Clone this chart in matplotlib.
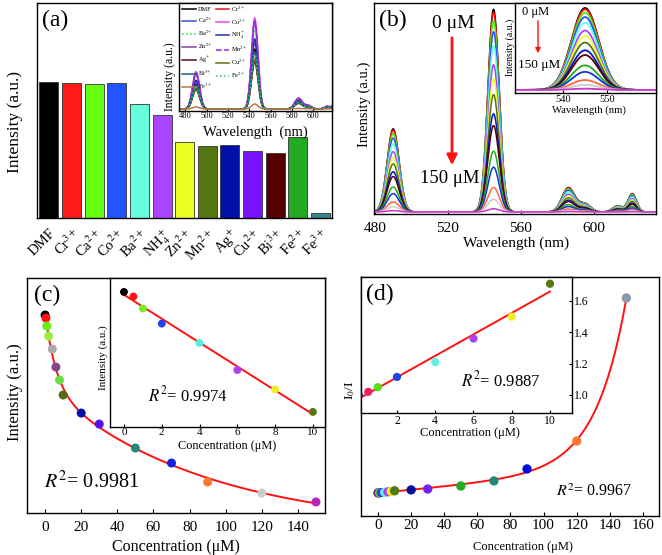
import matplotlib
matplotlib.use('Agg')
import matplotlib.pyplot as plt
import numpy as np

plt.rcParams['font.family'] = ['Liberation Serif', 'DejaVu Serif']
plt.rcParams['mathtext.fontset'] = 'stix'
plt.rcParams['xtick.direction'] = 'in'
plt.rcParams['ytick.direction'] = 'in'
plt.rcParams['axes.linewidth'] = 1.0

W, H = 662, 555

# ---------------- data ----------------
# (a) selectivity towards metal ions
ions = ['DMF', 'Cr$^{3+}$', 'Ca$^{2+}$', 'Co$^{2+}$', 'Ba$^{2+}$', 'NH$_4^+$', 'Zn$^{2+}$',
        'Mn$^{2+}$', 'Ag$^{+}$', 'Cu$^{2+}$', 'Bi$^{3+}$', 'Fe$^{2+}$', 'Fe$^{3+}$']
bar_intensity = [1000, 988, 981, 988, 834, 756, 560, 528, 538, 492, 475, 597, 34]
bar_colors = ['#000000', '#ff1a1a', '#66ff11', '#2255ff', '#66ffdd', '#aa44ff', '#eeff22',
              '#557711', '#0011aa', '#7711ff', '#550000', '#22aa22', '#338888']

# (a) inset spectra: 545 nm peak height for each ion
spec_peak_height = [60, 50, 66, 91, 78, 70, 86, 88, 47, 49, 56, 55, 5]
spec_colors = ['#000000', '#ee1111', '#3355cc', '#ee44ee', '#22dd44', '#223399', '#8844aa',
               '#9922ee', '#660022', '#557711', '#116677', '#22cc66', '#bb7744']
spec_styles = ['-', '-', '-', '-', ':', '-', '-', '--', '-', '-', '-', ':', '-']

# emission band shape: centre (nm), width (nm), relative height
band_centres = [490, 545, 586, 595, 613, 621]
band_widths = [3.3, 3.1, 3.5, 3.2, 2.8, 2.3]
band_rel = [0.41, 1.0, 0.12, 0.04, 0.03, 0.09]

# (b)-(d) Fe3+ titration
conc = np.array([0, 0.5, 1, 2, 4, 6, 8, 10, 20, 30, 50, 70, 90, 120, 150])
intensity = np.array([1000, 984, 942, 889, 821, 726, 658, 579, 484, 426, 300, 221, 121, 63, 16])
quench_ratio = np.array([1.0, 1.02, 1.05, 1.115, 1.21, 1.36, 1.50, 1.71, 2.0, 2.3, 3.3, 5.0,
                         9.0, 18.3, 66.0])

titration_colors = ['#000000', '#ff1111', '#55ee00', '#2255ff', '#66ffdd', '#aa44ff', '#eeff22',
                    '#557711', '#0011cc', '#550000', '#22aa22', '#1133dd', '#ff6644', '#cccccc',
                    '#cc33cc']
c_colors = ['#000000', '#ff1111', '#66ee11', '#99ee44', '#aaaaaa', '#884488', '#66dd44',
            '#556b11', '#0011aa', '#5511ee', '#228877', '#1122dd', '#ff7733', '#cccccc', '#bb22bb']
c_inset_colors = ['#000000', '#ff1111', '#77ee22', '#2244ee', '#55eedd', '#aa44ee', '#eeee22',
                  '#557711']
d_colors = ['#001199', '#ee2255', '#55dd11', '#2244ee', '#66eedd', '#aa44ee', '#eeee22',
            '#557711', '#001199', '#7722ee', '#22aa22', '#228877', '#0011dd', '#ff7733', '#8899aa']
d_inset_colors = ['#001199', '#ee2255', '#55dd11', '#2244ee', '#66eedd', '#aa44ee', '#eeee22',
                  '#557711']


# ---------------- helpers ----------------
def px_rect(left, top, right, bottom):
    return [left / W, 1 - bottom / H, (right - left) / W, (bottom - top) / H]


def band(wl, peak):
    out = np.zeros_like(wl)
    for c, w, r in zip(band_centres, band_widths, band_rel):
        out += r * np.exp(-0.5 * ((wl - c) / w) ** 2)
    return peak * out


def label_px(ax, which, x, y):
    pt = fig.transFigure.transform((x / W, 1 - y / H))
    ax_pt = ax.transAxes.inverted().transform(pt)
    if which == 'x':
        ax.xaxis.set_label_coords(*ax_pt)
        ax.xaxis.label.set_va('center')
    else:
        ax.yaxis.set_label_coords(*ax_pt)
        ax.yaxis.label.set_va('center')
        ax.yaxis.label.set_ha('center')


def ftext(x, y, s, **kw):
    fig.text(x / W, 1 - y / H, s, ha='center', va='center', **kw)


def biexp_fit(x, y):
    best = None
    for t1 in np.arange(1, 20, 0.5):
        for t2 in np.arange(20, 160, 2):
            A = np.column_stack([np.exp(-x / t1), np.exp(-x / t2), np.ones_like(x)])
            coef = np.linalg.lstsq(A, y, rcond=None)[0]
            err = np.sum((A @ coef - y) ** 2)
            if best is None or err < best[0]:
                best = (err, t1, t2, coef)
    _, t1, t2, coef = best
    return lambda z: coef[0] * np.exp(-z / t1) + coef[1] * np.exp(-z / t2) + coef[2]


def growth_fit(x, y):
    best = None
    for t in np.arange(5, 80, 0.5):
        A = np.column_stack([np.ones_like(x), x, np.exp(x / t)])
        coef = np.linalg.lstsq(A, y, rcond=None)[0]
        err = np.sum((A @ coef - y) ** 2)
        if best is None or err < best[0]:
            best = (err, t, coef)
    _, t, coef = best
    return lambda z: coef[0] + coef[1] * z + coef[2] * np.exp(z / t)


fig = plt.figure(figsize=(W / 100, H / 100), dpi=100)

# ---------------- (a) ----------------
ax_a = fig.add_axes(px_rect(37, 3, 331.5, 218))
xa = np.arange(len(ions))
ax_a.bar(xa, bar_intensity, width=0.84, color=bar_colors, edgecolor='#333333', linewidth=0.6)
ax_a.set_xlim(-0.53, 12.49)
ax_a.set_ylim(0, 1578)
ax_a.set_xticks(xa)
ax_a.set_xticklabels(ions, rotation=45, ha='right', rotation_mode='anchor', fontsize=10.5)
ax_a.tick_params(axis='x', length=0, pad=6)
ax_a.set_yticks([])
ax_a.set_ylabel('Intensity (a.u.)', fontsize=12.5)
label_px(ax_a, 'y', 15, 122)

ax_ai = fig.add_axes(px_rect(179, 3, 331.5, 111))
wl = np.linspace(470, 625, 600)
lines = []
for name, c, ls, h in zip(ions, spec_colors, spec_styles, spec_peak_height):
    ln, = ax_ai.plot(wl, band(wl, h), color=c, ls=ls, lw=1.1, label=name)
    lines.append(ln)
ax_ai.set_xlim(474, 617)
ax_ai.set_ylim(-2, 106)
ax_ai.set_xticks(np.arange(480, 601, 20))
ax_ai.tick_params(axis='x', labelsize=6, pad=1, length=2)
ax_ai.set_yticks([])
ax_ai.set_xlabel('Wavelength  (nm)', fontsize=10.5)
label_px(ax_ai, 'x', 255, 132)
ax_ai.set_ylabel('Intensity (a.u.)', fontsize=8.5)
label_px(ax_ai, 'y', 170, 77)
order = [0, 2, 4, 6, 8, 10, 12, 1, 3, 5, 7, 9, 11]
ax_ai.legend([lines[i] for i in order], [ions[i] for i in order], ncol=2, fontsize=4.5,
             frameon=False, loc='upper left', bbox_to_anchor=(0, 1.02), handlelength=2.2,
             columnspacing=0.5, labelspacing=0.55, borderaxespad=0.1, handletextpad=0.3)
ftext(55, 20, '(a)', fontsize=17)

# ---------------- (b) ----------------
ax_b = fig.add_axes(px_rect(374, 3, 656, 214))
wl_b = np.linspace(478, 636, 900)
for h, c in zip(intensity, titration_colors):
    ax_b.plot(wl_b, band(wl_b, h), color=c, lw=1.1)
ax_b.set_xlim(479.5, 634)
ax_b.set_ylim(-10, 1031)
ax_b.set_xticks([480, 520, 560, 600])
ax_b.tick_params(axis='x', labelsize=11, pad=6, length=3)
ax_b.set_yticks([])
ax_b.set_xlabel('Wavelength (nm)', fontsize=11)
label_px(ax_b, 'x', 516, 243)
ax_b.set_ylabel('Intensity (a.u.)', fontsize=10.5)
label_px(ax_b, 'y', 364, 104)
ftext(393, 20, '(b)', fontsize=17)
ftext(453, 23, '0 μM', fontsize=14)
ftext(450, 178, '150 μM', fontsize=13.5)
fig.add_artist(matplotlib.patches.FancyArrowPatch(
    (452 / W, 1 - 35 / H), (452 / W, 1 - 168 / H), transform=fig.transFigure,
    arrowstyle='-|>,head_length=6,head_width=3', color='#ff1111', lw=2))

ax_bi = fig.add_axes(px_rect(515, 3, 656, 93))
wl_i = np.linspace(526, 564, 300)
for h, c in zip(intensity, titration_colors):
    ax_bi.plot(wl_i, band(wl_i, h), color=c, lw=1.3)
ax_bi.set_xlim(529.1, 561.1)
ax_bi.set_ylim(-37, 1061)
ax_bi.set_xticks([540, 550])
ax_bi.tick_params(axis='x', labelsize=7.5, pad=1.5, length=2)
ax_bi.set_yticks([])
ax_bi.set_xlabel('Wavelength (nm)', fontsize=7.7)
label_px(ax_bi, 'x', 589, 110)
ax_bi.set_ylabel('Intensity (a.u.)', fontsize=7)
label_px(ax_bi, 'y', 510, 47)
ftext(536, 12, '0 μM', fontsize=9)
ftext(539, 65, '150 μM', fontsize=9.5)
fig.add_artist(matplotlib.patches.FancyArrowPatch(
    (538 / W, 1 - 18 / H), (538 / W, 1 - 56 / H), transform=fig.transFigure,
    arrowstyle='-|>,head_length=3,head_width=1.5', color='#ff1111', lw=1))

# ---------------- (c) ----------------
ax_c = fig.add_axes(px_rect(27, 278, 325, 513))
fit_c = biexp_fit(conc, intensity)
xs = np.linspace(0, 150, 400)
ax_c.plot(xs, fit_c(xs), color='#ff1111', lw=1.4, zorder=2)
ax_c.scatter(conc, intensity, c=c_colors, s=42, edgecolors='none', zorder=3)
ax_c.set_xlim(-10, 155)
ax_c.set_ylim(-42, 1195)
ax_c.set_xticks(np.arange(0, 141, 20))
ax_c.tick_params(axis='x', labelsize=11, pad=6, length=3)
ax_c.set_yticks([])
ax_c.set_xlabel('Concentration (μM)', fontsize=11.5)
label_px(ax_c, 'x', 176, 547)
ax_c.set_ylabel('Intensity (a.u.)', fontsize=12)
label_px(ax_c, 'y', 15, 392)
ftext(47, 295, '(c)', fontsize=17)
ftext(92, 482, r'$R^2$= 0.9981', fontsize=14.5)

ax_ci = fig.add_axes(px_rect(110, 278, 325, 427))
k_c, b_c = np.polyfit(conc[:8], intensity[:8], 1)
xl = np.array([0, 10])
ax_ci.plot(xl, k_c * xl + b_c, color='#ff1111', lw=1.4, zorder=2)
ax_ci.scatter(conc[:8], intensity[:8], c=c_inset_colors, s=32, edgecolors='none', zorder=3)
ax_ci.set_xlim(-0.74, 10.64)
ax_ci.set_ylim(526, 1049)
ax_ci.set_xticks(np.arange(0, 11, 2))
ax_ci.tick_params(axis='x', labelsize=8, pad=1, length=2)
ax_ci.set_yticks([])
ax_ci.set_xlabel('Concentration (μM)', fontsize=8.8)
label_px(ax_ci, 'x', 227, 446)
ax_ci.set_ylabel('Intensity (a.u.)', fontsize=8)
label_px(ax_ci, 'y', 103, 358)
ftext(188, 395, r'$R^2$= 0.9974', fontsize=12)

# ---------------- (d) ----------------
ax_d = fig.add_axes(px_rect(361, 277, 659, 516))
fit_d = growth_fit(conc, quench_ratio)
ax_d.plot(xs, fit_d(xs), color='#ff1111', lw=1.4, zorder=2)
ax_d.scatter(conc, quench_ratio, c=d_colors, s=45, edgecolors='none', zorder=3)
ax_d.set_xlim(-10.3, 169.7)
ax_d.set_ylim(-6.7, 73)
ax_d.set_xticks(np.arange(0, 161, 20))
ax_d.tick_params(axis='x', labelsize=11, pad=2.5, length=3)
ax_d.set_yticks([])
ax_d.set_xlabel('Concentration (μM)', fontsize=9)
label_px(ax_d, 'x', 523, 547)
ax_d.set_ylabel('I$_0$/I', fontsize=9.5)
label_px(ax_d, 'y', 350, 390)
ftext(380, 294, '(d)', fontsize=17)
ftext(594, 492, r'$R^2$= 0.9967', fontsize=11.5)

ax_di = fig.add_axes(px_rect(361, 277, 572, 413))
k_d, b_d = np.polyfit(conc[:8], quench_ratio[:8], 1)
ax_di.plot(xl, k_d * xl + b_d, color='#ff1111', lw=1.4, zorder=2)
ax_di.scatter(conc[:8], quench_ratio[:8], c=d_inset_colors, s=35, edgecolors='none', zorder=3)
ax_di.set_xlim(0.12, 11.15)
ax_di.set_ylim(0.885, 1.753)
ax_di.set_xticks([2, 4, 6, 8, 10])
ax_di.set_yticks([1.0, 1.2, 1.4, 1.6])
ax_di.set_yticklabels(['1.0', '1.2', '1.4', '1.6'])
ax_di.yaxis.tick_right()
ax_di.tick_params(axis='both', labelsize=8.5, pad=1.5, length=2)
ax_di.set_xlabel('Concentration (μM)', fontsize=9)
label_px(ax_di, 'x', 470, 433)
ftext(501, 380, r'$R^2$= 0.9887', fontsize=12)

fig.savefig('out.png', dpi=100)
